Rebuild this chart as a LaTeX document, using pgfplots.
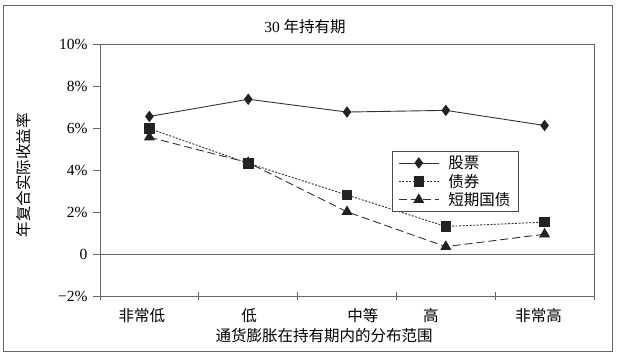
\documentclass[border=0pt]{standalone}
\usepackage{pgfplots}
\pgfplotsset{compat=1.18}
\usepackage{fontspec}
\setmainfont{Liberation Serif}
\newfontfamily\cjk{Noto Sans CJK SC}
\definecolor{ln}{HTML}{333333}
\definecolor{mk}{HTML}{222222}
\definecolor{ax}{HTML}{666666}
\begin{document}
\begin{tikzpicture}[x=1pt,y=1pt]
\useasboundingbox (-100,-61) rectangle (517,296);
\draw[ax, line width=0.8pt] (-96.5,-55) rectangle (512,291);
\begin{axis}[
  at={(0,0)}, anchor=south west, scale only axis,
  width=494pt, height=252pt,
  xmin=-0.5, xmax=4.5, ymin=-2, ymax=10,
  axis line style={draw=ax, line width=0.9pt},
  tickpos=left, tick align=outside,
  ytick={-2,0,2,4,6,8,10},
  yticklabels={−2\%,0,2\%,4\%,6\%,8\%,10\%},
  major tick length=7pt,
  xtick={-0.075,1.01,2.16,2.85,3.94},
  xticklabels={非常低,低,中等,高,非常高},
  xticklabel style={font=\cjk\fontsize{15.5}{18}\selectfont, yshift=-2pt},
  yticklabel style={font=\fontsize{15.5}{18}\selectfont, xshift=-2pt},
  major x tick style={draw=none},
  minor xtick={-0.5,0.5,1.5,2.5,3.5,4.5},
  minor tick length=8pt,
  minor x tick style={draw=ax, line width=0.9pt, yshift=4pt},
  major y tick style={draw=ax, line width=0.9pt},
  extra y ticks={0}, extra y tick labels={},
  extra y tick style={grid=major, major grid style={draw=ax, line width=0.9pt}},
  legend style={at={(0.591,0.575)}, anchor=north west, draw=black!70, line width=0.8pt,
    font=\cjk\fontsize{15.5}{16}\selectfont, inner xsep=6pt, inner ysep=2.5pt,
    row sep=0pt, cells={anchor=west},
    /tikz/every odd column/.append style={column sep=7pt}},
  legend cell align=left,
  legend image code/.code={\draw[mark repeat=2,mark phase=2,#1] plot coordinates {(0pt,0pt) (20pt,0pt) (40pt,0pt)};},
]
\addplot[color=ln, line width=0.9pt, mark=diamond*, mark size=5pt, mark options={solid, fill=mk, draw=mk}]
 coordinates {(0,6.55) (1,7.37) (2,6.76) (3,6.84) (4,6.12)};
\addlegendentry{股票}
\addplot[color=ln, line width=0.9pt, dash pattern=on 2pt off 1.5pt, mark=square*, mark size=4.8pt, mark options={solid, fill=mk, draw=mk}]
 coordinates {(0,5.97) (1,4.32) (2,2.81) (3,1.31) (4,1.52)};
\addlegendentry{债券}
\addplot[color=ln, line width=0.9pt, dash pattern=on 8pt off 4pt, mark=triangle*, mark size=5.5pt, mark options={solid, fill=mk, draw=mk}]
 coordinates {(0,5.56) (1,4.35) (2,2.01) (3,0.35) (4,0.94)};
\addlegendentry{短期国债}
\end{axis}
\node[font=\fontsize{15.5}{18}\selectfont] at (205,269) {30 {\cjk 年持有期}};
\node[font=\cjk\fontsize{15.5}{18}\selectfont, rotate=90] at (-76,121) {年复合实际收益率};
\node[font=\cjk\fontsize{15.5}{18}\selectfont] at (224,-40) {通货膨胀在持有期内的分布范围};
\end{tikzpicture}
\end{document}
